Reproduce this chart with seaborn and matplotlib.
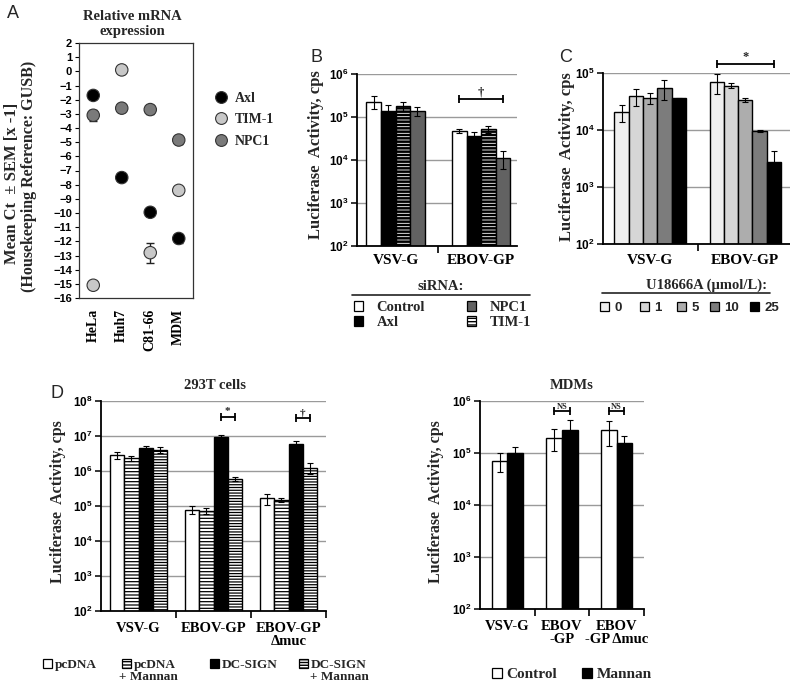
import numpy as np
import pandas as pd
import matplotlib.pyplot as plt
import matplotlib.ticker as mticker
from matplotlib.patches import Patch
from matplotlib.lines import Line2D
import seaborn as sns

W, H = 790, 690

# -------------------------------------------------------
# Data
# -------------------------------------------------------
# A: relative mRNA expression (mean Ct x -1, ref GUSB)
cell_lines = ["HeLa", "Huh7", "C81-66", "MDM"]
genes = ["Axl", "TIM-1", "NPC1"]
axl_ct = [-1.7, -7.5, -9.95, -11.8]
axl_sem = [0.15, 0.15, 0.15, 0.3]
tim1_ct = [-15.1, 0.1, -12.8, -8.4]
tim1_sem = [0.15, 0.15, 0.7, 0.2]
npc1_ct = [-3.1, -2.6, -2.7, -4.85]
npc1_sem = [0.4, 0.15, 0.3, 0.3]
gene_colors = ["#000000", "#c8c8c8", "#7a7a7a"]

# B: siRNA knockdown, luciferase cps
envelopes_b = ["VSV-G", "EBOV-GP"]
sirna = ["Control", "Axl", "TIM-1", "NPC1"]
b_control = [2.25e5, 4.75e4]
b_control_sem = [0.75e5, 0.6e4]
b_axl = [1.4e5, 3.6e4]
b_axl_sem = [0.5e5, 0.95e4]
b_tim1 = [1.8e5, 5.2e4]
b_tim1_sem = [0.45e5, 1.05e4]
b_npc1 = [1.4e5, 1.12e4]
b_npc1_sem = [0.35e5, 0.5e4]
sirna_colors = ["#ffffff", "#000000", "#ffffff", "#626262"]
sirna_hatches = ["", "", "-----", ""]

# C: U18666A dose, luciferase cps
envelopes_c = ["VSV-G", "EBOV-GP"]
doses = ["0", "1", "5", "10", "25"]
c_dose0 = [2.05e4, 6.9e4]
c_dose0_sem = [0.65e4, 2.7e4]
c_dose1 = [3.9e4, 6.0e4]
c_dose1_sem = [1.3e4, 0.65e4]
c_dose5 = [3.7e4, 3.4e4]
c_dose5_sem = [0.8e4, 0.25e4]
c_dose10 = [5.4e4, 9.6e3]
c_dose10_sem = [2.0e4, 0.3e3]
c_dose25 = [3.6e4, 2.7e3]
c_dose25_sem = [0.1e4, 1.5e3]
dose_colors = ["#efefef", "#d6d6d6", "#adadad", "#7c7c7c", "#000000"]

# D left: 293T cells
envelopes_d = ["VSV-G", "EBOV-GP", "EBOV-GP\nΔmuc"]
transfection = ["pcDNA", "pcDNA + Mannan", "DC-SIGN", "DC-SIGN + Mannan"]
d_pcdna = [2.85e6, 7.9e4, 1.64e5]
d_pcdna_sem = [0.6e6, 1.9e4, 0.6e5]
d_pcdna_mannan = [2.3e6, 7.2e4, 1.5e5]
d_pcdna_mannan_sem = [0.4e6, 1.3e4, 0.22e5]
d_dcsign = [4.4e6, 9.5e6, 6.1e6]
d_dcsign_sem = [0.8e6, 1.4e6, 1.0e6]
d_dcsign_mannan = [4.0e6, 5.9e5, 1.24e6]
d_dcsign_mannan_sem = [0.8e6, 0.85e5, 0.4e6]
transf_colors = ["#ffffff", "#ffffff", "#000000", "#ffffff"]
transf_hatches = ["", "-----", "", "------"]

# D right: MDMs
envelopes_mdm = ["VSV-G", "EBOV\n-GP", "EBOV\n-GP Δmuc"]
treatment = ["Control", "Mannan"]
mdm_control = [7.1e4, 1.97e5, 2.75e5]
mdm_control_sem = [2.8e4, 0.9e5, 1.4e5]
mdm_mannan = [1.0e5, 2.75e5, 1.58e5]
mdm_mannan_sem = [0.29e5, 1.5e5, 0.57e5]
treat_colors = ["#ffffff", "#000000"]

# -------------------------------------------------------
# Style
# -------------------------------------------------------
sns.set_theme(style="ticks")
plt.rcParams.update({
    "font.family": ["Liberation Serif", "DejaVu Serif"],
    "font.weight": "bold",
    "axes.labelweight": "bold",
    "mathtext.fontset": "custom",
    "mathtext.rm": "Liberation Sans:bold",
    "mathtext.bf": "Liberation Sans:bold",
    "mathtext.it": "Liberation Sans:bold:italic",
    "axes.edgecolor": "black",
    "xtick.color": "black",
    "ytick.color": "black",
})
SERIF = "Liberation Serif"
SANS = "Liberation Sans"


def fx(x):
    return x / W


def fy(y):
    return 1 - y / H


def rect(l, t, r, b):
    return [l / W, 1 - b / H, (r - l) / W, (b - t) / H]


def long_df(cats, levels, series):
    rows = []
    for lev, vals in zip(levels, series):
        for cat, v in zip(cats, vals):
            rows.append({"cat": cat, "level": lev, "value": v})
    return pd.DataFrame(rows)


def bar_panel(ax, cats, levels, series, sems, colors, hatches, width,
              ylo, yhi, xlim, cat_size, cat_pad, hatch_lw=1.0):
    df = long_df(cats, levels, series)
    with plt.rc_context({"hatch.linewidth": hatch_lw}):
        sns.barplot(data=df, x="cat", y="value", hue="level", order=cats,
                    hue_order=levels, palette=dict(zip(levels, colors)),
                    saturation=1, width=width, edgecolor="black", linewidth=1.0,
                    errorbar=None, legend=False, ax=ax)
        for cont, hatch in zip(ax.containers, hatches):
            for bar in cont:
                if hatch:
                    bar.set_hatch(hatch)
    for cont, vals, err in zip(ax.containers, series, sems):
        xs = [bar.get_x() + bar.get_width() / 2 for bar in cont]
        ax.errorbar(xs, vals, yerr=err, fmt="none", ecolor="black",
                    elinewidth=0.8, capsize=2.2, capthick=0.8, zorder=5)
    ax.set_yscale("log")
    ax.set_ylim(10 ** ylo, 10 ** yhi)
    ax.set_xlim(*xlim)
    ax.yaxis.set_major_locator(mticker.FixedLocator([10 ** k for k in range(ylo, yhi + 1)]))
    ax.yaxis.set_minor_locator(mticker.NullLocator())
    ax.yaxis.set_major_formatter(mticker.FuncFormatter(
        lambda v, p: r"$\mathbf{10^{%d}}$" % round(np.log10(v))))
    ax.tick_params(axis="y", which="major", length=4, width=1.1, labelsize=8.5, pad=2)
    ax.grid(axis="y", color="#9a9a9a", lw=1.0)
    ax.grid(axis="x", visible=False)
    ax.set_axisbelow(True)
    sns.despine(ax=ax)
    for s in ["left", "bottom"]:
        ax.spines[s].set_linewidth(1.3)
    ax.set_xticks(range(len(cats)))
    ax.set_xticklabels(cats, fontfamily=SERIF, fontweight="bold", fontsize=cat_size,
                       linespacing=1.0)
    ax.set_xticks([i + 0.5 for i in range(len(cats)) if i + 0.5 < xlim[1] + 0.01], minor=True)
    ax.tick_params(axis="x", which="major", length=0, pad=cat_pad)
    ax.tick_params(axis="x", which="minor", length=5, width=1.2, direction="out")
    ax.set_xlabel("")
    ax.set_ylabel("")


def bar_center(ax, level_idx, cat_idx):
    bar = ax.containers[level_idx][cat_idx]
    return bar.get_x() + bar.get_width() / 2


def bracket(ax, x0, x1, y, label, size, dy=0.5):
    ax.plot([x0, x1], [y, y], color="black", lw=1.3, marker="|", ms=6, mew=1.3,
            clip_on=False, zorder=6)
    ax.annotate(label, ((x0 + x1) / 2, y), xytext=(0, dy), textcoords="offset points",
                ha="center", va="bottom", fontsize=size, fontfamily=SERIF,
                fontweight="bold", annotation_clip=False)


def ylabel_text(x, y, size):
    fig.text(fx(x), fy(y), "Luciferase  Activity, cps", rotation=90, ha="center",
             va="center", fontsize=size, fontfamily=SERIF, fontweight="bold")


def legend_at(handles, labels, x, y, size, family=SERIF, **kw):
    opts = dict(loc="upper left", bbox_to_anchor=(fx(x), fy(y)),
                bbox_transform=fig.transFigure, frameon=False, borderpad=0,
                borderaxespad=0, handlelength=0.65, handleheight=0.65,
                prop=dict(family=family, weight="bold", size=size))
    opts.update(kw)
    return fig.legend(handles, labels, **opts)


def legend_row(handles, labels, xs, y, size, family=SERIF, pad=0.4):
    # one small legend per entry, so each key sits where the original has it
    return [legend_at([h], [l], x, y, size, family=family, handletextpad=pad)
            for h, l, x in zip(handles, labels, xs)]


def hline(x0, x1, y, lw=1.2):
    fig.add_artist(Line2D([fx(x0), fx(x1)], [fy(y), fy(y)], color="#222222",
                          lw=lw, transform=fig.transFigure))


fig = plt.figure(figsize=(W / 100, H / 100), dpi=100)

# -------------------------------------------------------
# Panel A
# -------------------------------------------------------
ax_a = fig.add_axes(rect(79, 43, 193, 298))
rows = []
for g, vals in zip(genes, [axl_ct, tim1_ct, npc1_ct]):
    for i, v in enumerate(vals):
        rows.append({"pos": i, "ct": v, "gene": g})
df_a = pd.DataFrame(rows)
for vals, err in zip([axl_ct, tim1_ct, npc1_ct], [axl_sem, tim1_sem, npc1_sem]):
    ax_a.errorbar(range(len(cell_lines)), vals, yerr=err, fmt="none", ecolor="#222222",
                  elinewidth=1.0, capsize=3, capthick=1.0, zorder=2)
sns.scatterplot(data=df_a, x="pos", y="ct", hue="gene", hue_order=genes,
                palette=dict(zip(genes, gene_colors)), s=80, edgecolor="#333333",
                linewidth=0.8, legend=False, ax=ax_a, zorder=3)
ax_a.set_xlim(-0.5, 3.5)
ax_a.set_ylim(-16, 2)
ax_a.set_yticks(range(-16, 3))
ax_a.set_xticks(range(len(cell_lines)))
ax_a.set_xticklabels(cell_lines, rotation=90, fontfamily=SERIF, fontweight="bold", fontsize=10)
ax_a.tick_params(axis="x", length=0, pad=8)
ax_a.tick_params(axis="y", length=3, width=0.8, labelsize=8, labelfontfamily=SANS, pad=2)
ax_a.set_xlabel("")
ax_a.set_ylabel("")
ax_a.grid(False)
for s in ax_a.spines.values():
    s.set_linewidth(0.9)
    s.set_color("#333333")

fig.text(fx(13), fy(14), "A", fontsize=13, fontfamily=SANS, fontweight="normal",
         ha="center", va="center")
fig.text(fx(132), fy(24), "Relative mRNA\nexpression", fontsize=10.5, fontfamily=SERIF,
         fontweight="bold", ha="center", va="center", linespacing=1.15)
fig.text(fx(12), fy(183), "Mean Ct  ± SEM [x -1]", rotation=90, fontsize=12,
         fontfamily=SERIF, fontweight="bold", ha="center", va="center")
fig.text(fx(29), fy(176), "(Housekeeping Reference: GUSB)", rotation=90, fontsize=11.5,
         fontfamily=SERIF, fontweight="bold", ha="center", va="center")
gene_handles = [Line2D([], [], marker="o", ls="none", markerfacecolor=c,
                       markeredgecolor="#333333", markersize=8.5, mew=0.8)
                for c in gene_colors]
legend_at(gene_handles, genes, 214, 92, 10, handlelength=1.0, handleheight=0.7,
          handletextpad=0.5, labelspacing=0.6)

# -------------------------------------------------------
# Panel B
# -------------------------------------------------------
ax_b = fig.add_axes(rect(357, 74, 517, 246))
bar_panel(ax_b, envelopes_b, sirna, [b_control, b_axl, b_tim1, b_npc1],
          [b_control_sem, b_axl_sem, b_tim1_sem, b_npc1_sem], sirna_colors,
          sirna_hatches, 0.68, 2, 6, (-0.45, 1.42), 11, 6, hatch_lw=1.8)
bracket(ax_b, bar_center(ax_b, 0, 1), bar_center(ax_b, 3, 1), 2.6e5, "†", 9)
fig.text(fx(316), fy(57), "B", fontsize=13, fontfamily=SANS, fontweight="normal",
         ha="center", va="center")
ylabel_text(316, 155, 12)
fig.text(fx(441), fy(287), "siRNA:", fontsize=10.5, fontfamily=SERIF, fontweight="bold",
         ha="center", va="center")
hline(352, 530, 295)
b_handles = [Patch(facecolor=c, edgecolor="black", hatch=h, lw=0.9)
             for c, h in zip(sirna_colors, sirna_hatches)]
legend_row(b_handles[:2][:1] + b_handles[3:4], [sirna[0], sirna[3]], [354, 467], 301, 10.5,
           pad=0.9)
legend_row([b_handles[1], b_handles[2]], [sirna[1], sirna[2]], [354, 467], 316, 10.5,
           pad=0.9)

# -------------------------------------------------------
# Panel C
# -------------------------------------------------------
ax_c = fig.add_axes(rect(603, 73, 790, 244))
bar_panel(ax_c, envelopes_c, doses, [c_dose0, c_dose1, c_dose5, c_dose10, c_dose25],
          [c_dose0_sem, c_dose1_sem, c_dose5_sem, c_dose10_sem, c_dose25_sem],
          dose_colors, [""] * 5, 0.75, 2, 5, (-0.495, 1.47), 11, 7)
bracket(ax_c, bar_center(ax_c, 0, 1), bar_center(ax_c, 4, 1), 1.44e5, "*", 9)
fig.text(fx(566), fy(57), "C", fontsize=13, fontfamily=SANS, fontweight="normal",
         ha="center", va="center")
ylabel_text(567, 157, 12)
fig.text(fx(707), fy(285), "U18666A (µmol/L):", fontsize=10.5, fontfamily=SERIF,
         fontweight="bold", ha="center", va="center")
hline(602, 770, 293)
c_handles = [Patch(facecolor=c, edgecolor="black", lw=0.9) for c in dose_colors]
legend_row(c_handles, doses, [600, 640, 677, 710, 750], 302, 9.5, family=SANS, pad=0.45)

# -------------------------------------------------------
# Panel D left: 293T cells
# -------------------------------------------------------
ax_d1 = fig.add_axes(rect(101, 401, 326, 611))
bar_panel(ax_d1, envelopes_d, transfection,
          [d_pcdna, d_pcdna_mannan, d_dcsign, d_dcsign_mannan],
          [d_pcdna_sem, d_pcdna_mannan_sem, d_dcsign_sem, d_dcsign_mannan_sem],
          transf_colors, transf_hatches, 0.75, 2, 8, (-0.5, 2.5), 10.5, 8, hatch_lw=0.9)
bracket(ax_d1, bar_center(ax_d1, 2, 1), bar_center(ax_d1, 3, 1), 3.5e7, "*", 8)
bracket(ax_d1, bar_center(ax_d1, 2, 2), bar_center(ax_d1, 3, 2), 3.3e7, "†", 8)
fig.text(fx(57), fy(394), "D", fontsize=13, fontfamily=SANS, fontweight="normal",
         ha="center", va="center")
fig.text(fx(215), fy(386), "293T cells", fontsize=10.5, fontfamily=SERIF,
         fontweight="bold", ha="center", va="center")
ylabel_text(58, 502, 11.5)
d_handles = [Patch(facecolor=c, edgecolor="black", hatch=h, lw=0.9)
             for c, h in zip(transf_colors, transf_hatches)]
d_labels = ["pcDNA", "pcDNA", "DC-SIGN", "DC-SIGN"]
legs_d = legend_row(d_handles, d_labels, [43, 122, 210, 299], 659, 9.5, pad=0.25)

# -------------------------------------------------------
# Panel D right: MDMs
# -------------------------------------------------------
ax_d2 = fig.add_axes(rect(480, 401, 644, 609))
bar_panel(ax_d2, envelopes_mdm, treatment, [mdm_control, mdm_mannan],
          [mdm_control_sem, mdm_mannan_sem], treat_colors, ["", ""], 0.57,
          2, 6, (-0.5, 2.5), 10.5, 8)
bracket(ax_d2, bar_center(ax_d2, 0, 1), bar_center(ax_d2, 1, 1), 6.5e5, "NS", 6, dy=0)
bracket(ax_d2, bar_center(ax_d2, 0, 2), bar_center(ax_d2, 1, 2), 6.5e5, "NS", 6, dy=0)
fig.text(fx(572), fy(386), "MDMs", fontsize=10.5, fontfamily=SERIF,
         fontweight="bold", ha="center", va="center")
ylabel_text(436, 502, 11.5)
m_handles = [Patch(facecolor=c, edgecolor="black", lw=0.9) for c in treat_colors]
legend_row(m_handles, treatment, [492, 582], 668, 11, pad=0.3)

# "+ Mannan" second lines under the D-left legend labels
fig.canvas.draw()
inv = fig.transFigure.inverted()
for leg in [legs_d[1], legs_d[3]]:
    bb = leg.get_texts()[0].get_window_extent()
    x1, y0 = inv.transform((bb.x1, bb.y0))
    fig.text(x1 + 2 / W, y0, "+ Mannan", ha="right", va="top", fontsize=9.5,
             fontfamily=SERIF, fontweight="bold")

fig.savefig("out.png", dpi=100)
